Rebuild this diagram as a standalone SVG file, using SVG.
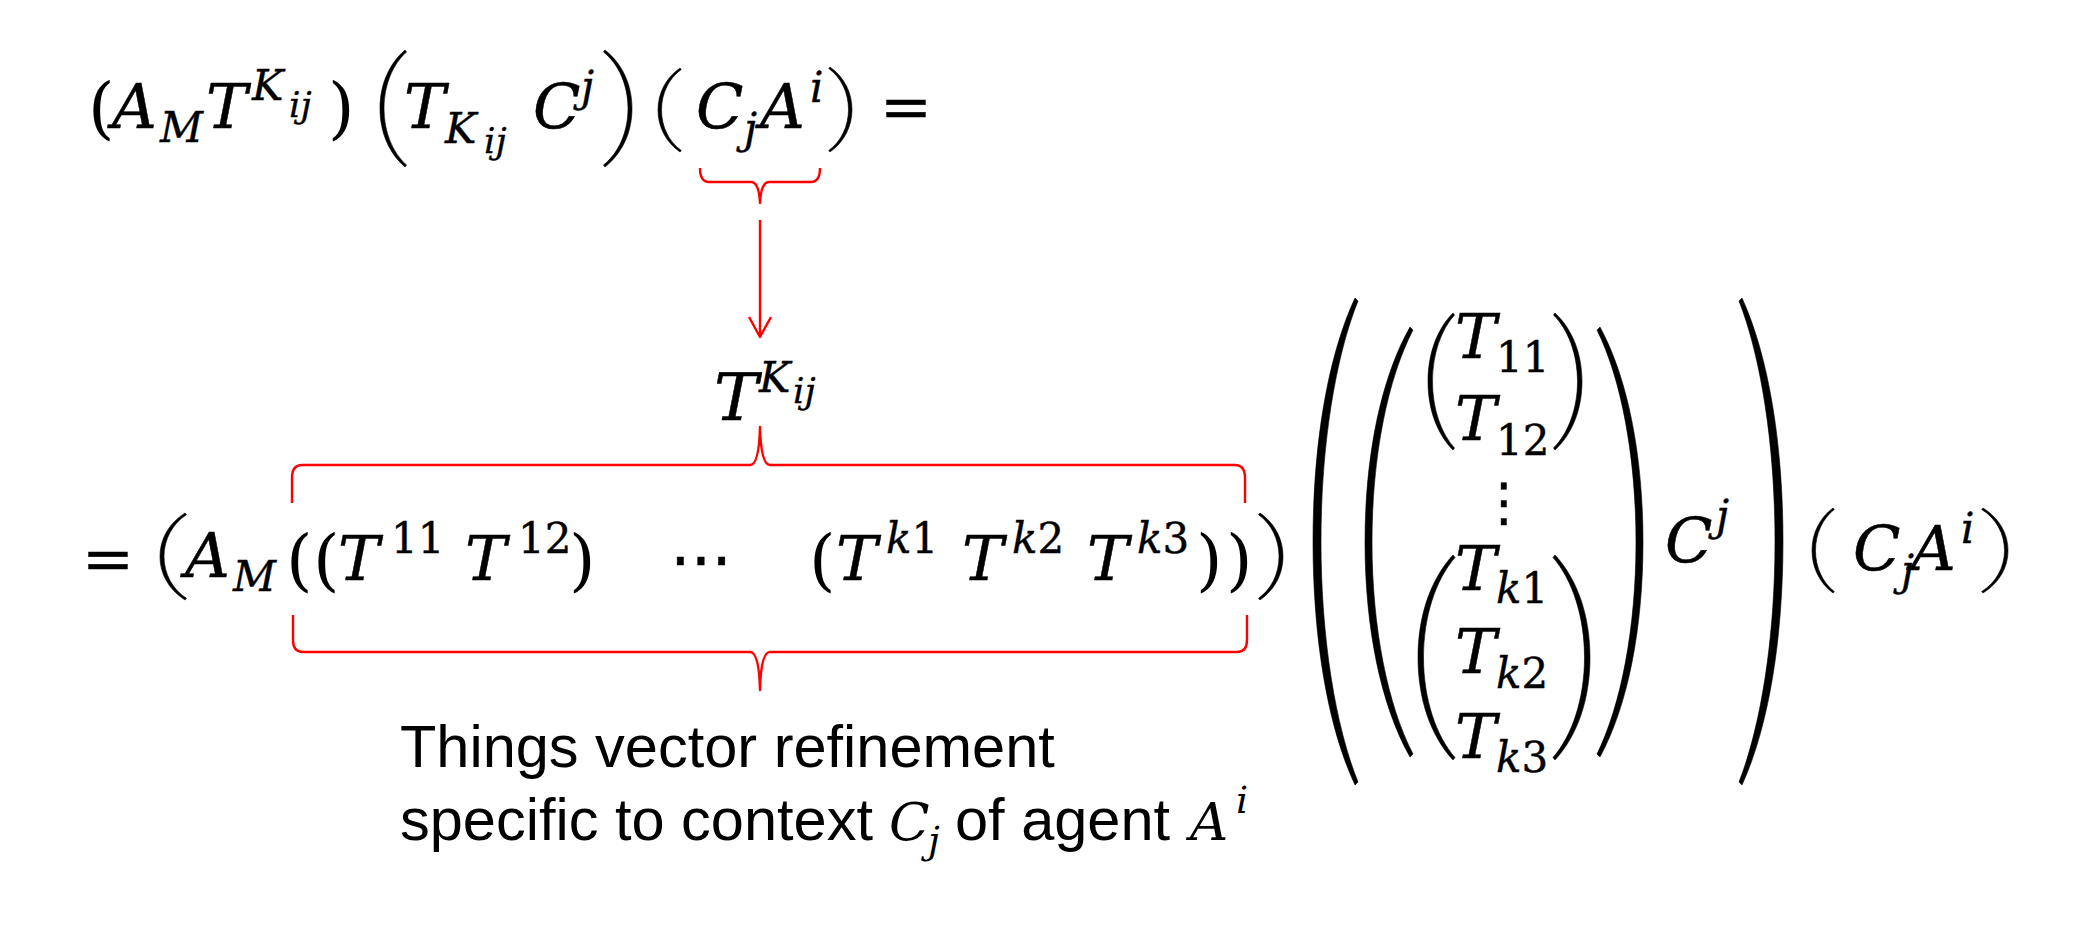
<svg xmlns="http://www.w3.org/2000/svg" width="2080" height="932" viewBox="0 0 2080 932">
<style>
.m{font-family:"DejaVu Serif",serif;font-style:italic;font-size:62px;fill:#000;stroke:#000;stroke-width:0.5}
.s{font-size:42px;stroke-width:0.4}
.ss{font-size:36px;stroke-width:0.3}
.up{font-style:normal}
.p{font-family:"DejaVu Serif",serif;font-style:normal;font-size:68px;fill:#000}
.dl{fill:#000;stroke:#000;stroke-width:0.6}
.br{fill:none;stroke:#f00;stroke-width:2.4;stroke-linejoin:round}
.txt{font-family:"Liberation Sans",Arial,sans-serif;font-size:59.5px;fill:#000}
.cm{font-family:"DejaVu Serif",serif;font-style:italic;font-size:53px}
.cs{font-family:"DejaVu Serif",serif;font-style:italic;font-size:38px}
</style>
<rect width="2080" height="932" fill="#fff"/>

<g id="eq-top">
<text class="p" x="88" y="131">(</text>
<text class="m" x="112" y="128">A</text>
<text class="m s" x="160" y="142">M</text>
<text class="m" x="206" y="128">T</text>
<text class="m s" x="252" y="100">K</text>
<text class="m ss" x="289" y="117">ij</text>
<text class="p" x="328" y="131">)</text>
<path class="dl" d="M405,50 C388.8,64 380,85 380,108.5 C380,132 388.8,153 405,167 L406.5,165 C392.8,153 384,132 384,108.5 C384,85 392.8,64 406.5,52 Z"/>
<text class="m" x="404" y="128">T</text>
<text class="m s" x="445" y="143">K</text>
<text class="m ss" x="484" y="153">ij</text>
<text class="m" x="533" y="128">C</text>
<text class="m s" x="581" y="101">j</text>
<path class="dl" d="M605,50 C622.6,64 632,85 632,108.5 C632,132 622.6,153 605,167 L603.5,165 C618.6,153 628,132 628,108.5 C628,85 618.6,64 603.5,52 Z"/>
<path class="dl" d="M680,68 C665.7,78 658,93.2 658,110 C658,126.8 665.7,142 680,152 L681.3,150.5 C669.2,142 661.5,126.8 661.5,110 C661.5,93.2 669.2,78 681.3,69.5 Z"/>
<text class="m" x="696" y="128">C</text>
<text class="m s" x="744" y="143">j</text>
<text class="m" x="760" y="128">A</text>
<text class="m s" x="810" y="102">i</text>
<path class="dl" d="M830,67 C844.3,77.2 852,92.5 852,109.5 C852,126.5 844.3,141.8 830,152 L828.7,150.5 C840.8,141.8 848.5,126.5 848.5,109.5 C848.5,92.5 840.8,77.2 828.7,68.5 Z"/>
<text class="m up" x="880" y="128">=</text>
</g>

<g id="label-tkij">
<text class="m" x="714" y="420" style="font-size:66px">T</text>
<text class="m s" x="759" y="392">K</text>
<text class="m ss" x="793" y="403">ij</text>
</g>

<g id="eq-line2">
<text class="m up" x="82" y="580">=</text>
<path class="dl" d="M185,513 C168.8,523.4 160,539.1 160,556.5 C160,573.9 168.8,589.6 185,600 L186.5,598.3 C172.8,589.6 164,573.9 164,556.5 C164,539.1 172.8,523.4 186.5,514.7 Z"/>
<text class="m" x="185" y="577">A</text>
<text class="m s" x="233" y="591">M</text>
<text class="p" x="286" y="583">(</text>
<text class="p" x="313" y="583">(</text>
<text class="m" x="338" y="580">T</text>
<text class="m s up" x="391" y="553">11</text>
<text class="m" x="465" y="580">T</text>
<text class="m s up" x="518" y="553">12</text>
<text class="p" x="569" y="583">)</text>
<text class="m up" x="670" y="580">⋯</text>
<text class="p" x="809" y="583">(</text>
<text class="m" x="836" y="580">T</text>
<text class="m s" x="886" y="553">k<tspan class="up">1</tspan></text>
<text class="m" x="962" y="580">T</text>
<text class="m s" x="1012" y="553">k<tspan class="up">2</tspan></text>
<text class="m" x="1087" y="580">T</text>
<text class="m s" x="1137" y="553">k<tspan class="up">3</tspan></text>
<text class="p" x="1196" y="583">)</text>
<text class="p" x="1226" y="583">)</text>
<path class="dl" d="M1260,513 C1275,523.4 1283,539.1 1283,556.5 C1283,573.9 1275,589.6 1260,600 L1258.5,598.3 C1271,589.6 1279,573.9 1279,556.5 C1279,539.1 1271,523.4 1258.5,514.7 Z"/>
</g>

<g id="matrix">
<path class="dl" d="M1355,298 C1327.7,356.4 1313,444.1 1313,541.5 C1313,638.9 1327.7,726.6 1355,785 L1358,782 C1335.7,726.6 1321,638.9 1321,541.5 C1321,444.1 1335.7,356.4 1358,301 Z"/>
<path class="dl" d="M1410,327 C1380.8,378.6 1365,456 1365,542 C1365,628 1380.8,705.4 1410,757 L1413,754 C1387.8,705.4 1372,628 1372,542 C1372,456 1387.8,378.6 1413,330 Z"/>
<path class="dl" d="M1453,313 C1436.8,329.4 1428,354.1 1428,381.5 C1428,408.9 1436.8,433.6 1453,450 L1454.5,448 C1441.3,433.6 1432.5,408.9 1432.5,381.5 C1432.5,354.1 1441.3,329.4 1454.5,315 Z"/>
<path class="dl" d="M1555,313 C1572.6,329.4 1582,354.1 1582,381.5 C1582,408.9 1572.6,433.6 1555,450 L1553.5,448 C1568,433.6 1577.5,408.9 1577.5,381.5 C1577.5,354.1 1568,329.4 1553.5,315 Z"/>
<text class="m" x="1455" y="358">T</text>
<text class="m s up" x="1496" y="372">11</text>
<text class="m" x="1455" y="440">T</text>
<text class="m s up" x="1496" y="455">12</text>
<text class="m up" x="1504" y="520" text-anchor="middle" style="font-family:'DejaVu Sans',sans-serif;font-size:52px">⋮</text>
<path class="dl" d="M1453,555 C1430.3,579.6 1418,616.5 1418,657.5 C1418,698.5 1430.3,735.4 1453,760 L1455,757.5 C1435.8,735.4 1423.5,698.5 1423.5,657.5 C1423.5,616.5 1435.8,579.6 1455,557.5 Z"/>
<path class="dl" d="M1555,555 C1577.8,579.6 1590,616.5 1590,657.5 C1590,698.5 1577.8,735.4 1555,760 L1553,757.5 C1572.3,735.4 1584.5,698.5 1584.5,657.5 C1584.5,616.5 1572.3,579.6 1553,557.5 Z"/>
<text class="m" x="1455" y="590">T</text>
<text class="m s" x="1496" y="603">k<tspan class="up">1</tspan></text>
<text class="m" x="1455" y="673">T</text>
<text class="m s" x="1496" y="688">k<tspan class="up">2</tspan></text>
<text class="m" x="1455" y="758">T</text>
<text class="m s" x="1496" y="772">k<tspan class="up">3</tspan></text>
<path class="dl" d="M1600,327 C1628,378.6 1643,456 1643,542 C1643,628 1628,705.4 1600,757 L1597,754 C1621,705.4 1636,628 1636,542 C1636,456 1621,378.6 1597,330 Z"/>
<text class="m" x="1665" y="562">C</text>
<text class="m s" x="1716" y="530">j</text>
<path class="dl" d="M1742,298 C1768.7,356.4 1783,444.1 1783,541.5 C1783,638.9 1768.7,726.6 1742,785 L1739,782 C1760.7,726.6 1775,638.9 1775,541.5 C1775,444.1 1760.7,356.4 1739,301 Z"/>
</g>

<g id="ctx-group">
<path class="dl" d="M1833,508 C1819.4,518.2 1812,533.5 1812,550.5 C1812,567.5 1819.4,582.8 1833,593 L1834.3,591.5 C1822.9,582.8 1815.5,567.5 1815.5,550.5 C1815.5,533.5 1822.9,518.2 1834.3,509.5 Z"/>
<text class="m" x="1853" y="570">C</text>
<text class="m s" x="1901" y="585">j</text>
<text class="m" x="1911" y="570">A</text>
<text class="m s" x="1961" y="543">i</text>
<path class="dl" d="M1983,508 C1999.3,518.2 2008,533.5 2008,550.5 C2008,567.5 1999.3,582.8 1983,593 L1981.7,591.5 C1995.8,582.8 2004.5,567.5 2004.5,550.5 C2004.5,533.5 1995.8,518.2 1981.7,509.5 Z"/>
</g>

<g id="caption">
<text class="txt" x="400" y="767">Things vector refinement</text>
<text class="txt" x="400" y="840">specific to context <tspan class="cm" x="889">C</tspan><tspan class="cs" x="928" dy="13">j</tspan><tspan x="955" dy="-13">of agent </tspan><tspan class="cm" x="1190">A</tspan><tspan class="cs" x="1236" dy="-27">i</tspan></text>
</g>

<g id="connectors">
<path class="br" d="M700,168 Q700,182 709,182 L751,182 Q759,182 760,203 Q761,182 769,182 L811,182 Q820,182 820,168"/>
<line class="br" x1="760" y1="220" x2="760" y2="336"/>
<polyline class="br" points="749,317 760,337 771,317"/>
<path class="br" d="M292,503 L292,478 Q292,465 302,465 L750,465 Q759,465 760,427 Q761,465 770,465 L1235,465 Q1245,465 1245,478 L1245,503"/>
<path class="br" d="M293,615 L293,640 Q293,652 303,652 L750,652 Q759,652 760,690 Q761,652 770,652 L1237,652 Q1247,652 1247,640 L1247,615"/>
</g>
</svg>
